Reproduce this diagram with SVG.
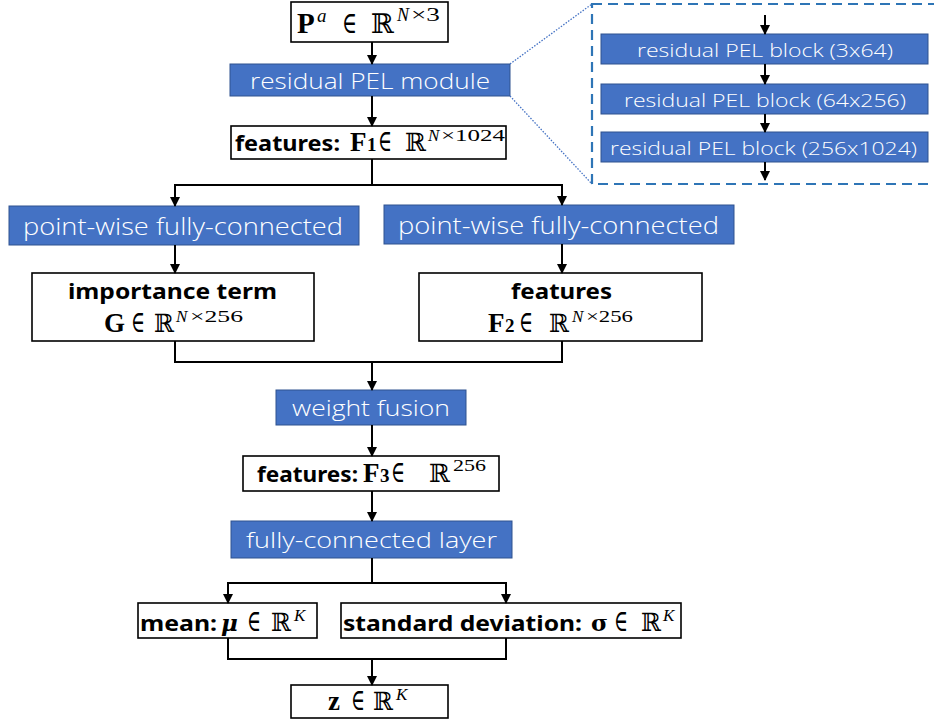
<svg xmlns="http://www.w3.org/2000/svg" width="934" height="720" viewBox="0 0 934 720">
  <defs>
    <marker id="arrow" viewBox="0 0 10 10" refX="9" refY="5" markerUnits="userSpaceOnUse" markerWidth="10" markerHeight="10" orient="auto">
      <path d="M0,0 L10,5 L0,10 z" fill="#000"/>
    </marker>
    <style>
      .blue { fill: #4472C4; stroke: #2F528F; stroke-width: 1; }
      .box { fill: #fff; stroke: #000; stroke-width: 1.6; }
      .btxt { font-family: "Open Sans", "Noto Sans", "Liberation Sans", sans-serif; font-weight: 350; fill: #fff; }
      .lbl { font-family: "Noto Sans", "Open Sans", "Liberation Sans", sans-serif; font-weight: bold; fill: #000; font-size: 22px; }
      .m { font-family: "Liberation Serif", "DejaVu Serif", serif; fill: #000; }
      .mb { font-weight: bold; }
      .mi { font-style: italic; }
      .bb { font-family: "DejaVu Serif", "Liberation Serif", serif; font-weight: normal; }
      .bbb { font-family: "DejaVu Serif", "Liberation Serif", serif; font-weight: bold; }
      .el { font-family: "DejaVu Serif", "Liberation Serif", serif; font-weight: normal; font-size: 30px; }
      .wire { fill: none; stroke: #000; stroke-width: 2; }
      .arr { fill: none; stroke: #000; stroke-width: 2; marker-end: url(#arrow); }
      .zoomline { fill: none; stroke: #4472C4; stroke-width: 1.3; stroke-dasharray: 1.5 1.5; }
      .inset { fill: none; stroke: #2E75B6; stroke-width: 2.2; stroke-dasharray: 10 6; }
    </style>
  </defs>

  <rect width="934" height="720" fill="#fff"/>

  <!-- input point cloud -->
  <g id="input">
    <rect class="box" x="291" y="2" width="157" height="40"/>
    <text class="m" y="33">
      <tspan class="mb" x="297" font-size="29">P</tspan>
      <tspan class="mi" x="317" y="22" font-size="19">a</tspan>
      <tspan class="el" x="342" y="33" textLength="15" lengthAdjust="spacingAndGlyphs">∈</tspan>
      <tspan class="bb" x="371" font-size="27" textLength="23" lengthAdjust="spacingAndGlyphs">ℝ</tspan>
      <tspan class="mi" x="397" y="21" font-size="18">N</tspan>
      <tspan x="411" y="21" font-size="18" textLength="29" lengthAdjust="spacingAndGlyphs">×3</tspan>
    </text>
  </g>

  <g id="pel-module">
    <rect class="blue" x="230" y="64" width="280" height="32"/>
    <text class="btxt" x="250" y="89" font-size="22" textLength="240" lengthAdjust="spacingAndGlyphs">residual PEL module</text>
  </g>

  <g id="features-f1">
    <rect class="box" x="231" y="126" width="275" height="33"/>
    <text class="lbl" x="235" y="151" textLength="105" lengthAdjust="spacingAndGlyphs">features:</text>
    <text class="m" y="151">
      <tspan class="mb" x="350" font-size="27">F</tspan>
      <tspan class="mb" x="367" font-size="19">1</tspan>
      <tspan class="el" x="378" textLength="14" lengthAdjust="spacingAndGlyphs">∈</tspan>
      <tspan class="bb" x="405" font-size="25" textLength="21" lengthAdjust="spacingAndGlyphs">ℝ</tspan>
      <tspan class="mi" x="428" y="141" font-size="17">N</tspan>
      <tspan x="441" y="141" font-size="17" textLength="64" lengthAdjust="spacingAndGlyphs">×1024</tspan>
    </text>
  </g>

  <!-- expanded view of the PEL module -->
  <g id="pel-detail">
    <path class="zoomline" d="M510,64 L592,4 M510,96 L592,184"/>
    <rect class="inset" x="592" y="4" width="350" height="180"/>
    <rect class="blue" x="601" y="34" width="327" height="30"/>
    <text class="btxt" x="637" y="57" font-size="19" textLength="256" lengthAdjust="spacingAndGlyphs">residual PEL block (3x64)</text>
    <rect class="blue" x="601" y="84" width="327" height="30"/>
    <text class="btxt" x="624" y="107" font-size="19" textLength="282" lengthAdjust="spacingAndGlyphs">residual PEL block (64x256)</text>
    <rect class="blue" x="601" y="132" width="327" height="30"/>
    <text class="btxt" x="610" y="155" font-size="19" textLength="307" lengthAdjust="spacingAndGlyphs">residual PEL block (256x1024)</text>
  </g>

  <g id="pointwise-left">
    <rect class="blue" x="9" y="206" width="350" height="39"/>
    <text class="btxt" x="23" y="235" font-size="24" textLength="320" lengthAdjust="spacingAndGlyphs">point-wise fully-connected</text>
  </g>

  <g id="pointwise-right">
    <rect class="blue" x="384" y="205" width="350" height="39"/>
    <text class="btxt" x="398" y="234" font-size="24" textLength="321" lengthAdjust="spacingAndGlyphs">point-wise fully-connected</text>
  </g>

  <g id="importance-term">
    <rect class="box" x="32" y="273" width="282" height="68"/>
    <text class="lbl" x="68" y="299" textLength="209" lengthAdjust="spacingAndGlyphs">importance term</text>
    <text class="m" y="332">
      <tspan class="mb" x="104" font-size="27">G</tspan>
      <tspan class="el" x="131" textLength="14" lengthAdjust="spacingAndGlyphs">∈</tspan>
      <tspan class="bb" x="154" font-size="25" textLength="20" lengthAdjust="spacingAndGlyphs">ℝ</tspan>
      <tspan class="mi" x="176" y="322" font-size="17">N</tspan>
      <tspan x="190" y="322" font-size="17" textLength="53" lengthAdjust="spacingAndGlyphs">×256</tspan>
    </text>
  </g>

  <g id="features-f2">
    <rect class="box" x="419" y="273" width="283" height="68"/>
    <text class="lbl" x="511" y="299" textLength="101" lengthAdjust="spacingAndGlyphs">features</text>
    <text class="m" y="332">
      <tspan class="mb" x="488" font-size="27">F</tspan>
      <tspan class="mb" x="505" font-size="19">2</tspan>
      <tspan class="el" x="519" textLength="14" lengthAdjust="spacingAndGlyphs">∈</tspan>
      <tspan class="bb" x="549" font-size="25" textLength="20" lengthAdjust="spacingAndGlyphs">ℝ</tspan>
      <tspan class="mi" x="572" y="322" font-size="17">N</tspan>
      <tspan x="586" y="322" font-size="17" textLength="47" lengthAdjust="spacingAndGlyphs">×256</tspan>
    </text>
  </g>

  <g id="weight-fusion">
    <rect class="blue" x="276" y="390" width="190" height="35"/>
    <text class="btxt" x="292" y="416" font-size="22" textLength="158" lengthAdjust="spacingAndGlyphs">weight fusion</text>
  </g>

  <g id="features-f3">
    <rect class="box" x="243" y="456" width="256" height="35"/>
    <text class="lbl" x="257" y="482" textLength="101" lengthAdjust="spacingAndGlyphs">features:</text>
    <text class="m" y="482">
      <tspan class="mb" x="363" font-size="27">F</tspan>
      <tspan class="mb" x="380" font-size="19">3</tspan>
      <tspan class="el" x="391" textLength="14" lengthAdjust="spacingAndGlyphs">∈</tspan>
      <tspan class="bb" x="429" font-size="25" textLength="21" lengthAdjust="spacingAndGlyphs">ℝ</tspan>
      <tspan x="453" y="471" font-size="17" textLength="33" lengthAdjust="spacingAndGlyphs">256</tspan>
    </text>
  </g>

  <g id="fc-layer">
    <rect class="blue" x="231" y="521" width="281" height="37"/>
    <text class="btxt" x="246" y="548" font-size="22" textLength="251" lengthAdjust="spacingAndGlyphs">fully-connected layer</text>
  </g>

  <g id="mean">
    <rect class="box" x="138" y="603" width="179" height="35"/>
    <text class="lbl" x="140" y="631" textLength="77" lengthAdjust="spacingAndGlyphs">mean:</text>
    <text class="m" y="631">
      <tspan class="bbb mi" x="221" font-size="23">μ</tspan>
      <tspan class="el" x="247" textLength="14" lengthAdjust="spacingAndGlyphs">∈</tspan>
      <tspan class="bb" x="271" font-size="25" textLength="20" lengthAdjust="spacingAndGlyphs">ℝ</tspan>
      <tspan class="mi" x="294" y="621" font-size="17">K</tspan>
    </text>
  </g>

  <g id="std-dev">
    <rect class="box" x="341" y="603" width="340" height="35"/>
    <text class="lbl" x="343" y="631" textLength="239" lengthAdjust="spacingAndGlyphs">standard deviation:</text>
    <text class="m" y="631">
      <tspan class="bbb" x="591" font-size="23">σ</tspan>
      <tspan class="el" x="614" textLength="14" lengthAdjust="spacingAndGlyphs">∈</tspan>
      <tspan class="bb" x="641" font-size="25" textLength="20" lengthAdjust="spacingAndGlyphs">ℝ</tspan>
      <tspan class="mi" x="663" y="621" font-size="17">K</tspan>
    </text>
  </g>

  <g id="latent-z">
    <rect class="box" x="291" y="685" width="157" height="33"/>
    <text class="m" y="710">
      <tspan class="mb" x="328" font-size="27">z</tspan>
      <tspan class="el" x="351" textLength="14" lengthAdjust="spacingAndGlyphs">∈</tspan>
      <tspan class="bb" x="373" font-size="25" textLength="20" lengthAdjust="spacingAndGlyphs">ℝ</tspan>
      <tspan class="mi" x="396" y="700" font-size="17">K</tspan>
    </text>
  </g>

  <g id="connectors">
    <path class="arr" d="M372,42 V64"/>
    <path class="arr" d="M372,96 V126"/>
    <path class="wire" d="M372,159 V185"/>
    <path class="arr" d="M372,185 H175 V206"/>
    <path class="arr" d="M372,185 H562 V205"/>
    <path class="arr" d="M175,245 V273"/>
    <path class="arr" d="M562,244 V273"/>
    <path class="wire" d="M175,341 V362 H562 V341"/>
    <path class="arr" d="M372,362 V390"/>
    <path class="arr" d="M372,425 V456"/>
    <path class="arr" d="M372,491 V521"/>
    <path class="wire" d="M372,558 V583"/>
    <path class="arr" d="M372,583 H228 V603"/>
    <path class="arr" d="M372,583 H506 V603"/>
    <path class="wire" d="M228,638 V659 H506 V638"/>
    <path class="arr" d="M372,659 V685"/>
    <path class="arr" d="M765,15 V34"/>
    <path class="arr" d="M765,64 V84"/>
    <path class="arr" d="M765,114 V132"/>
    <path class="arr" d="M765,162 V180"/>
  </g>
</svg>
